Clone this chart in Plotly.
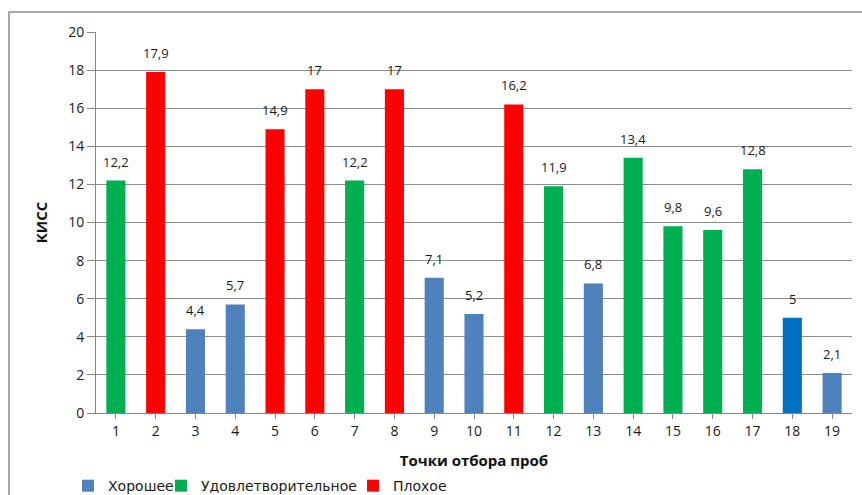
import plotly.graph_objects as go

points = list(range(1, 20))
kiss = [12.2, 17.9, 4.4, 5.7, 14.9, 17, 12.2, 17, 7.1, 5.2, 16.2, 11.9, 6.8, 13.4, 9.8, 9.6, 12.8, 5, 2.1]
quality = ["У", "П", "Х", "Х", "П", "П", "У", "П", "Х", "Х", "П", "У", "Х", "У", "У", "У", "У", "Х", "Х"]
class_names = {"Х": "Хорошее", "У": "Удовлетворительное", "П": "Плохое"}
class_colors = {"Х": "#4F81BD", "У": "#00B050", "П": "#FF0000"}
special_colors = {18: "#0070C0"}
y_ticks = [0, 2, 4, 6, 8, 10, 12, 14, 16, 18, 20]

def fmt(v):
    s = ("%.1f" % v).rstrip("0").rstrip(".")
    return s.replace(".", ",")

legend_ids = {"Х": "legend", "У": "legend2", "П": "legend3"}
legend_x = {"legend": -0.037, "legend2": 0.086, "legend3": 0.340}

fig = go.Figure()
for key in ["Х", "У", "П"]:
    xs = [p for p, q in zip(points, quality) if q == key]
    ys = [v for v, q in zip(kiss, quality) if q == key]
    cols = [special_colors.get(p, class_colors[key]) for p in xs]
    fig.add_trace(go.Bar(
        x=xs, y=ys, name=class_names[key],
        marker=dict(color=cols, line=dict(width=0)),
        width=0.48, legend=legend_ids[key],
    ))

annotations = [dict(x=p, y=v, xref="x", yref="y", text=fmt(v), showarrow=False,
                    yanchor="bottom", yshift=8,
                    font=dict(family="Open Sans", size=13, color="#1a1a1a"))
               for p, v in zip(points, kiss)]

legend_common = dict(orientation="h", xanchor="left", yref="container", y=0.018,
                     yanchor="middle", font=dict(family="DejaVu Sans", size=14, color="#1a1a1a"),
                     bgcolor="rgba(0,0,0,0)")

fig.update_layout(
    width=862, height=495,
    margin=dict(l=96, r=10, t=32, b=82, autoexpand=False),
    paper_bgcolor="white", plot_bgcolor="white",
    barmode="overlay",
    showlegend=True,
    legend=dict(x=legend_x["legend"], **legend_common),
    legend2=dict(x=legend_x["legend2"], **legend_common),
    legend3=dict(x=legend_x["legend3"], **legend_common),
    annotations=annotations,
    xaxis=dict(
        tickmode="array", tickvals=points, ticktext=[str(p) for p in points],
        range=[0.5, 19.5], showgrid=False, zeroline=False, automargin=False,
        showline=True, linecolor="#868686", linewidth=1,
        ticks="outside", tickson="boundaries", ticklen=5, tickcolor="#868686",
        tickfont=dict(family="Open Sans", size=14, color="#1a1a1a"),
        title=dict(text="<b>Точки отбора проб</b>", standoff=20,
                   font=dict(family="Open Sans", size=15, color="#111")),
    ),
    yaxis=dict(
        tickmode="array", tickvals=y_ticks, range=[0, 20], automargin=False,
        showgrid=True, gridcolor="#8c8c8c", gridwidth=1, zeroline=False,
        showline=True, linecolor="#868686", linewidth=1,
        ticks="outside", ticklen=8, tickcolor="#868686",
        tickfont=dict(family="Open Sans", size=14, color="#1a1a1a"),
        title=dict(text="<b>КИСС</b>", standoff=16,
                   font=dict(family="Open Sans", size=15, color="#111")),
    ),
    shapes=[dict(type="rect", xref="paper", yref="paper",
                 x0=-0.1151, x1=1.2, y0=-0.5, y1=1.0525,
                 line=dict(color="#8a8a8a", width=1.5), fillcolor="rgba(0,0,0,0)", layer="below")],
)

fig.write_html("out.html")
